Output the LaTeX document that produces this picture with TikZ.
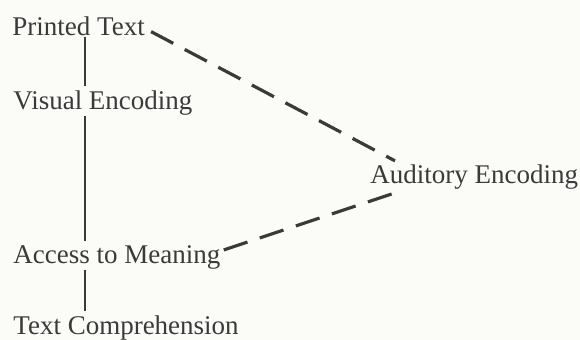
\documentclass[tikz,border=0pt]{standalone}
\usepackage{fontspec}
\setmainfont{Liberation Serif}
\usepackage{tikz}
\usetikzlibrary{calc}
\definecolor{ink}{RGB}{58,58,58}
\definecolor{paper}{RGB}{251,251,248}

\begin{document}
\begin{tikzpicture}[x=0.5pt,y=-0.5pt,
  stage/.style={anchor=base west,inner sep=0pt,text=ink,font=\fontsize{13.5}{16}\selectfont},
  spine/.style={draw=ink,line width=1pt,shorten >=2.5pt},
  route/.style={draw=ink,line width=1.6pt,dash pattern=on 12.5pt off 6.5pt}]
%Поле рисунка
\fill[paper] (0,0) rectangle (580,340);
\useasboundingbox (0,0) rectangle (580,340);
%Этапы чтения
\node[stage] (pt) at (12,36) {Printed Text};
\node[stage] (ve) at (13,110) {Visual Encoding};
\node[stage] (ae) at (370,184) {Auditory Encoding};
\node[stage] (am) at (13,264) {Access to Meaning};
\node[stage] (tc) at (13,335) {Text Comprehension};
\coordinate (ax) at (85,0);
%Прямой путь
\draw[spine] (ax |- pt.south) -- (ax |- ve.north);
\draw[spine] (ax |- ve.south) -- (ax |- am.north);
\draw[spine] (ax |- am.south) -- (ax |- tc.north);
%Путь через слуховое кодирование
\draw[route] ($(pt.south east)+(6,-5)$) -- ($(ae.north west)+(25,-4)$);
\draw[route] ($(am.east)+(3,-8)$) -- ($(ae.south west)+(27,2)$);
\end{tikzpicture}
\end{document}
